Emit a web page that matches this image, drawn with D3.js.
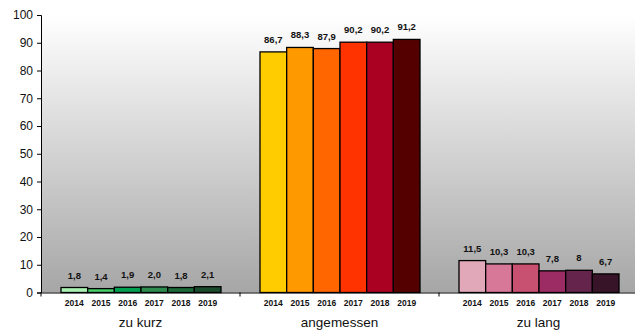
<!DOCTYPE html>
<html>
<head>
<meta charset="utf-8">
<script src="https://cdn.jsdelivr.net/npm/d3@7"></script>
<style>
  body { margin: 0; background: #fff; }
  svg text { font-family: Arial, "Liberation Sans", sans-serif; }
</style>
</head>
<body>
<svg id="chart" width="635" height="333"></svg>
<script>
var categories = ["zu kurz", "angemessen", "zu lang"];
var years = ["2014", "2015", "2016", "2017", "2018", "2019"];
var zuKurz = [1.8, 1.4, 1.9, 2.0, 1.8, 2.1];
var angemessen = [86.7, 88.3, 87.9, 90.2, 90.2, 91.2];
var zuLang = [11.5, 10.3, 10.3, 7.8, 8, 6.7];
var valueLabels = [
  ["1,8", "1,4", "1,9", "2,0", "1,8", "2,1"],
  ["86,7", "88,3", "87,9", "90,2", "90,2", "91,2"],
  ["11,5", "10,3", "10,3", "7,8", "8", "6,7"]
];
var yTicks = [0, 10, 20, 30, 40, 50, 60, 70, 80, 90, 100];
var palettes = [
  ["#aaf0b0", "#44cc66", "#00a050", "#2e8b4e", "#1c6a38", "#1a4a2c"],
  ["#ffcc00", "#ff9900", "#ff6600", "#ff3300", "#aa0022", "#550000"],
  ["#e0a8b8", "#d87898", "#c85070", "#9c2c64", "#64244c", "#381428"]
];

var series = [zuKurz, angemessen, zuLang];

var svg = d3.select("#chart"),
    margin = {top: 15, right: -3, bottom: 40.5, left: 41},
    width = +svg.attr("width") - margin.left - margin.right,
    height = +svg.attr("height") - margin.top - margin.bottom;

var defs = svg.append("defs");
var grad = defs.append("linearGradient")
    .attr("id", "bg")
    .attr("x1", 0).attr("y1", 0).attr("x2", 0).attr("y2", 1);
grad.append("stop").attr("offset", "0%").attr("stop-color", "#ffffff");
grad.append("stop").attr("offset", "100%").attr("stop-color", "#a6a6a6");

var g = svg.append("g").attr("transform", "translate(" + margin.left + "," + margin.top + ")");

var x0 = d3.scaleBand().domain(categories).range([0, width]).paddingInner(0).paddingOuter(0);
var x1 = d3.scaleBand().domain(years).range([20, x0.bandwidth() - 19]).padding(0);
var y = d3.scaleLinear().domain([0, 100]).range([height, 0]);

g.append("rect")
    .attr("width", width)
    .attr("height", height)
    .attr("fill", "url(#bg)");

var groups = g.selectAll(".grp")
    .data(categories)
    .enter().append("g")
    .attr("class", "grp")
    .attr("transform", function(d) { return "translate(" + x0(d) + ",0)"; });

groups.each(function(cat, ci) {
  var grp = d3.select(this);
  var data = series[ci].map(function(v, i) { return {year: years[i], value: v, label: valueLabels[ci][i], color: palettes[ci][i]}; });

  grp.selectAll("rect.bar")
      .data(data)
      .enter().append("rect")
      .attr("class", "bar")
      .attr("x", function(d) { return x1(d.year); })
      .attr("y", function(d) { return y(d.value); })
      .attr("width", x1.bandwidth())
      .attr("height", function(d) { return height - y(d.value); })
      .attr("fill", function(d) { return d.color; })
      .attr("stroke", "#000")
      .attr("stroke-width", 1.3);

  grp.selectAll("text.val")
      .data(data)
      .enter().append("text")
      .attr("class", "val")
      .attr("x", function(d) { return x1(d.year) + x1.bandwidth() / 2; })
      .attr("y", function(d) { return y(d.value) - 9; })
      .attr("text-anchor", "middle")
      .attr("font-size", 9.5)
      .attr("font-weight", "bold")
      .attr("fill", "#111")
      .text(function(d) { return d.label; });

  grp.selectAll("text.yr")
      .data(data)
      .enter().append("text")
      .attr("class", "yr")
      .attr("x", function(d) { return x1(d.year) + x1.bandwidth() / 2; })
      .attr("y", height + 13)
      .attr("text-anchor", "middle")
      .attr("font-size", 8.5)
      .attr("font-weight", "bold")
      .attr("fill", "#111")
      .text(function(d) { return d.year; });

  grp.append("text")
      .attr("x", x0.bandwidth() / 2)
      .attr("y", height + 34)
      .attr("text-anchor", "middle")
      .attr("font-size", 13.5)
      .attr("fill", "#111")
      .text(cat);
});

// y axis
var yAxis = g.append("g")
    .call(d3.axisLeft(y).tickValues(yTicks).tickSize(4).tickPadding(4));
yAxis.select(".domain").attr("stroke", "#000");
yAxis.selectAll("text").attr("font-size", 12).attr("fill", "#111")
    .style("font-family", "Arial, 'Liberation Sans', sans-serif");

// x baseline with category separators
var xAxis = g.append("g")
    .attr("transform", "translate(0," + height + ")")
    .call(d3.axisBottom(x0).tickValues([]).tickSizeOuter(0));
xAxis.select(".domain").attr("stroke", "#000");
xAxis.selectAll(".sep")
    .data([0].concat(categories.map(function(c) { return x0(c) + x0.bandwidth(); })))
    .enter().append("line")
    .attr("class", "sep")
    .attr("x1", function(d) { return d; })
    .attr("x2", function(d) { return d; })
    .attr("y1", 0).attr("y2", 4)
    .attr("stroke", "#000");
</script>
</body>
</html>
